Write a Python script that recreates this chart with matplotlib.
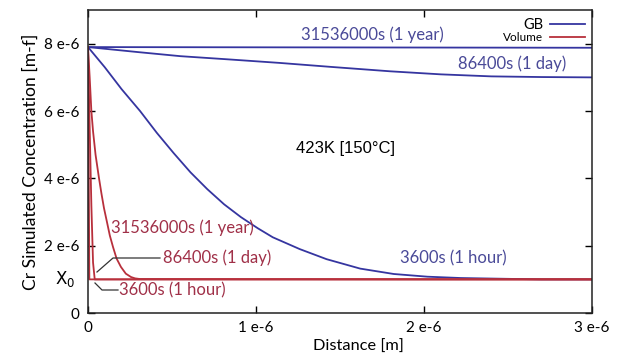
#!/usr/bin/env python3
# -*- coding: utf-8 -*-
"""
Cr concentration profiles at 423K: grain boundary (GB) vs volume diffusion.
Values are read off the original chart, in units of 1e-6.
"""
import matplotlib
matplotlib.use("Agg")
import matplotlib.pyplot as plt
from matplotlib.ticker import FuncFormatter
from matplotlib.transforms import IdentityTransform

SCALE = 1e-6
X0 = 1.0

# GB profiles (distance, concentration) in 1e-6 units
gb_year_x = [0.0, 3.0]
gb_year_c = [7.90, 7.88]

gb_day_x = [0.0, 0.30, 0.55, 0.85, 1.14, 1.45, 1.80, 2.10, 2.40, 2.70, 3.0]
gb_day_c = [7.90, 7.75, 7.63, 7.53, 7.43, 7.31, 7.18, 7.09, 7.03, 7.01, 7.00]

gb_hour_x = [0.0, 0.10, 0.20, 0.31, 0.41, 0.51, 0.61, 0.71, 0.81, 0.91, 1.01,
             1.10, 1.26, 1.42, 1.62, 1.82, 2.02, 2.22, 2.45, 2.70, 3.0]
gb_hour_c = [7.90, 7.30, 6.65, 6.00, 5.35, 4.75, 4.18, 3.68, 3.23, 2.85, 2.52,
             2.25, 1.90, 1.60, 1.32, 1.16, 1.08, 1.04, 1.02, 1.00, 1.00]

# Volume profiles
vol_year_x = [0.0, 0.01, 0.02, 0.03, 0.045, 0.065, 0.08, 0.095, 0.113, 0.13,
              0.149, 0.17, 0.196, 0.225, 0.256, 0.28, 0.31, 3.0]
vol_year_c = [7.90, 7.00, 6.00, 5.40, 4.70, 4.02, 3.55, 3.12, 2.70, 2.30,
              1.96, 1.62, 1.37, 1.17, 1.07, 1.03, 1.01, 1.00]

vol_day_x = [0.0, 0.010, 0.020, 0.030, 0.040, 3.0]
vol_day_c = [7.90, 5.50, 3.20, 1.50, 1.00, 1.00]

vol_hour_x = [0.0, 0.008, 3.0]
vol_hour_c = [7.90, 1.00, 1.00]

BLUE = "#3535a0"
RED = "#b8303c"
BLUE_TXT = "#4a4a98"
RED_TXT = "#a03048"

plt.rcParams["font.family"] = ["Lato", "DejaVu Sans"]

fig = plt.figure(figsize=(6.18, 3.59), dpi=100)
ax = fig.add_axes([0.1424, 0.128, 0.8156, 0.844])
H = fig.bbox.height


def sc(vals):
    return [v * SCALE for v in vals]


def ptext(x, y, s, **kw):
    # x, y in picture pixels measured from the top-left corner
    ax.text(x, H - y, s, transform=IdentityTransform(), va="center", **kw)


lw = 1.3
ax.plot(sc(gb_year_x), sc(gb_year_c), color=BLUE, lw=lw, label="GB")
ax.plot(sc(gb_day_x), sc(gb_day_c), color=BLUE, lw=lw)
ax.plot(sc(gb_hour_x), sc(gb_hour_c), color=BLUE, lw=lw)
ax.plot(sc(vol_year_x), sc(vol_year_c), color=RED, lw=lw, label="Volume")
ax.plot(sc(vol_day_x), sc(vol_day_c), color=RED, lw=lw)
ax.plot(sc(vol_hour_x), sc(vol_hour_c), color=RED, lw=lw)

ax.set_xlim(0, 3e-6)
ax.set_ylim(0, 9e-6)
ax.set_xticks([0, 1e-6, 2e-6, 3e-6])
ax.set_yticks([0, 2e-6, 4e-6, 6e-6, 8e-6])
fmt = FuncFormatter(lambda v, _: "0" if abs(v) < 1e-12 else f"{v / SCALE:.0f} e-6")
ax.xaxis.set_major_formatter(fmt)
ax.yaxis.set_major_formatter(fmt)
ax.tick_params(direction="in", top=True, right=True, length=5, width=1,
               labelsize=11, pad=6)
for s in ax.spines.values():
    s.set_color("#222222")
    s.set_linewidth(1.1)

ax.set_ylabel("Cr Simulated Concentration [m-f]", fontsize=12.6, labelpad=4)
fig.text(0.58, 0.035, "Distance [m]", fontsize=11.8, ha="center", va="center")

# X0 marker label on the y axis
ax.text(-0.025, X0 * SCALE, "X$_0$", transform=ax.get_yaxis_transform(),
        ha="right", va="center", fontsize=12, family="DejaVu Sans")

# GB labels
ptext(372, 35, "31536000s (1 year)", color=BLUE_TXT, fontsize=12, ha="center")
ptext(512, 64, "86400s (1 day)", color=BLUE_TXT, fontsize=12, ha="center")
ptext(453, 258, "3600s (1 hour)", color=BLUE_TXT, fontsize=12, ha="center")

# Volume labels with leaders
ptext(182, 228, "31536000s (1 year)", color=RED_TXT, fontsize=12, ha="center")
ptext(163, 258, "86400s (1 day)", color=RED_TXT, fontsize=12, ha="left")
ptext(119, 290, "3600s (1 hour)", color=RED_TXT, fontsize=12, ha="left")

ptext(345, 148, "423K [150°C]", color="black", fontsize=12, ha="center",
      family="Liberation Sans")

leg = ax.legend(loc="upper right", frameon=False, fontsize=9, handlelength=2.8,
                borderaxespad=0.2, labelspacing=0.05, handletextpad=0.5,
                markerfirst=False)
leg.get_texts()[0].set_fontsize(10.5)
leg.get_texts()[1].set_fontsize(8.5)


def pix(x, y):
    return ax.transData.inverted().transform((x, H - y))


for xs, ys in [([160, 113, 97], [258, 258, 272]), ([118, 102, 95], [290, 290, 283])]:
    pts = [pix(a, b) for a, b in zip(xs, ys)]
    ax.plot([p[0] for p in pts], [p[1] for p in pts], color="#333333", lw=0.9)

fig.savefig("out.png", dpi=100)
